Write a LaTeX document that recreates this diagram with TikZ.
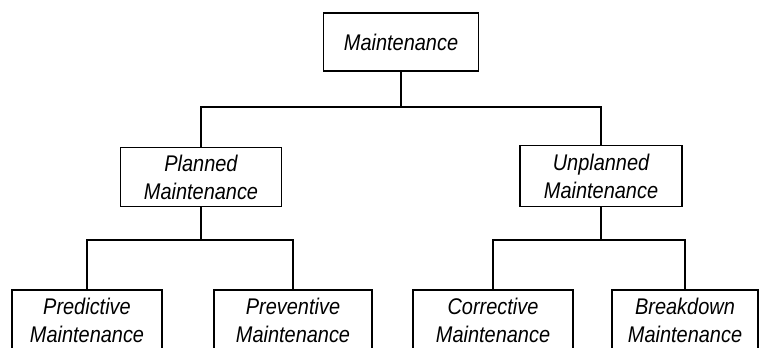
\documentclass[tikz,border=0pt]{standalone}
\usepackage{fontspec}
\setmainfont[FakeStretch=0.88]{Liberation Sans}
\tikzset{
  mbox/.style={draw,line width=0.9pt,align=center,inner sep=0pt,
    font=\fontsize{17}{21}\selectfont\itshape},
  link/.style={line width=0.9pt}
}
\begin{document}
\begin{tikzpicture}[x=0.75pt,y=0.75pt]
\useasboundingbox[fill=white](0,0) rectangle (763,347);
% top level
\node[mbox,minimum width=116.25pt,minimum height=43.5pt] (maint) at (401,305) {Maintenance};
% second level
\node[mbox,minimum width=120.75pt,minimum height=44.25pt] (planned) at (201,170) {Planned\\Maintenance};
\node[mbox,minimum width=121.5pt,minimum height=45.75pt] (unplanned) at (601,171) {Unplanned\\Maintenance};
% third level
\node[mbox,minimum width=112.5pt,minimum height=45pt] (predictive) at (87,27) {Predictive\\Maintenance};
\node[mbox,minimum width=118.5pt,minimum height=45pt] (preventive) at (293,27) {Preventive\\Maintenance};
\node[mbox,minimum width=120pt,minimum height=45pt] (corrective) at (493,27) {Corrective\\Maintenance};
\node[mbox,minimum width=109.5pt,minimum height=45pt] (breakdown) at (685,27) {Breakdown\\Maintenance};
% junctions
\coordinate (jtop) at (401,240);
\coordinate (jplan) at (201,107);
\coordinate (junpl) at (601,107);
\draw[link] (maint) -- (jtop);
\draw[link] (planned) |- (jtop) -| (unplanned);
\draw[link] (planned) -- (jplan);
\draw[link] (predictive) |- (jplan) -| (preventive);
\draw[link] (unplanned) -- (junpl);
\draw[link] (corrective) |- (junpl) -| (breakdown);
\end{tikzpicture}
\end{document}
